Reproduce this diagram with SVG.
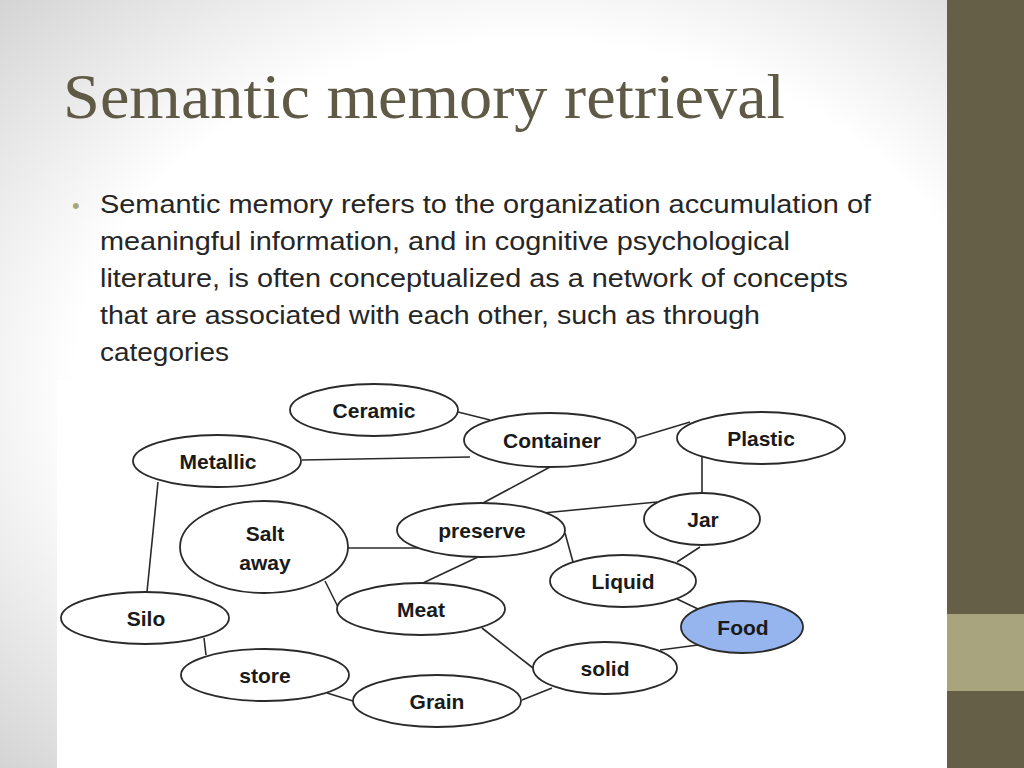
<svg xmlns="http://www.w3.org/2000/svg" width="1024" height="768" viewBox="0 0 1024 768">
<defs>
<radialGradient id="bg" cx="52%" cy="50%" r="72%">
<stop offset="0" stop-color="#ffffff"/>
<stop offset="0.62" stop-color="#ffffff"/>
<stop offset="1" stop-color="#d4d4d4"/>
</radialGradient>
<style>
.node ellipse{fill:#ffffff;stroke:#2a2a2a;stroke-width:1.8}
.node text{font-family:"Liberation Sans",Arial,sans-serif;font-weight:bold;font-size:21px;fill:#1a1a1a;text-anchor:middle}
#edges line{stroke:#2a2a2a;stroke-width:1.6}
.body{font-family:"Liberation Sans",Arial,sans-serif;font-size:25px;fill:#262626}
</style>
</defs>
<rect x="0" y="0" width="1024" height="768" fill="url(#bg)"/>
<rect x="57" y="380" width="890" height="388" fill="#ffffff"/>
<rect x="947" y="0" width="77" height="768" fill="#665f48"/>
<rect x="947" y="614" width="77" height="77" fill="#a8a47e"/>
<text x="63" y="118" font-family="'Liberation Serif','Times New Roman',serif" font-size="64" fill="#5f5a45" textLength="722" lengthAdjust="spacingAndGlyphs">Semantic memory retrieval</text>
<text x="72" y="213" font-family="'Liberation Sans',Arial,sans-serif" font-size="22" fill="#a9a57e">•</text>
<text class="body" x="100" y="213" textLength="771" lengthAdjust="spacingAndGlyphs">Semantic memory refers to the organization accumulation of</text>
<text class="body" x="100" y="250" textLength="690" lengthAdjust="spacingAndGlyphs">meaningful information, and in cognitive psychological</text>
<text class="body" x="100" y="287" textLength="748" lengthAdjust="spacingAndGlyphs">literature, is often conceptualized as a network of concepts</text>
<text class="body" x="100" y="324" textLength="660" lengthAdjust="spacingAndGlyphs">that are associated with each other, such as through</text>
<text class="body" x="100" y="361" textLength="129" lengthAdjust="spacingAndGlyphs">categories</text>
<g id="edges">
<line x1="458" y1="412" x2="490" y2="420"/>
<line x1="302" y1="460" x2="470" y2="457"/>
<line x1="637" y1="438" x2="690" y2="422"/>
<line x1="550" y1="467" x2="483" y2="503"/>
<line x1="702" y1="457" x2="702" y2="493"/>
<line x1="543" y1="513" x2="657" y2="502"/>
<line x1="565" y1="533" x2="573" y2="562"/>
<line x1="700" y1="547" x2="677" y2="562"/>
<line x1="348" y1="548" x2="418" y2="548"/>
<line x1="158" y1="482" x2="147" y2="592"/>
<line x1="325" y1="581" x2="338" y2="607"/>
<line x1="423" y1="583" x2="478" y2="557"/>
<line x1="482" y1="628" x2="533" y2="668"/>
<line x1="677" y1="599" x2="698" y2="609"/>
<line x1="660" y1="650" x2="698" y2="645"/>
<line x1="522" y1="700" x2="552" y2="688"/>
<line x1="204" y1="638" x2="206" y2="655"/>
<line x1="327" y1="693" x2="353" y2="701"/>
</g>
<g id="ceramic" class="node"><ellipse cx="374" cy="410" rx="84" ry="26"/><text x="374" y="418">Ceramic</text></g>
<g id="container" class="node"><ellipse cx="550" cy="440" rx="86" ry="27"/><text x="552" y="448">Container</text></g>
<g id="plastic" class="node"><ellipse cx="761" cy="438" rx="84" ry="26"/><text x="761" y="446">Plastic</text></g>
<g id="metallic" class="node"><ellipse cx="217" cy="461" rx="84" ry="26"/><text x="218" y="469">Metallic</text></g>
<g id="saltaway" class="node"><ellipse cx="264" cy="547" rx="84" ry="46"/><text x="265" y="541">Salt</text><text x="265" y="570">away</text></g>
<g id="preserve" class="node"><ellipse cx="481" cy="530" rx="84" ry="27"/><text x="482" y="538">preserve</text></g>
<g id="jar" class="node"><ellipse cx="702" cy="519" rx="58" ry="26"/><text x="703" y="527">Jar</text></g>
<g id="liquid" class="node"><ellipse cx="623" cy="581" rx="73" ry="26"/><text x="623" y="589">Liquid</text></g>
<g id="food" class="node"><ellipse cx="742" cy="627" rx="61" ry="26" style="fill:#96b5ef"/><text x="743" y="635">Food</text></g>
<g id="meat" class="node"><ellipse cx="421" cy="609" rx="84" ry="26"/><text x="421" y="617">Meat</text></g>
<g id="silo" class="node"><ellipse cx="145" cy="618" rx="84" ry="26"/><text x="146" y="626">Silo</text></g>
<g id="store" class="node"><ellipse cx="265" cy="675" rx="84" ry="26"/><text x="265" y="683">store</text></g>
<g id="grain" class="node"><ellipse cx="437" cy="701" rx="84" ry="26"/><text x="437" y="709">Grain</text></g>
<g id="solid" class="node"><ellipse cx="605" cy="668" rx="72" ry="26"/><text x="605" y="676">solid</text></g>
</svg>
